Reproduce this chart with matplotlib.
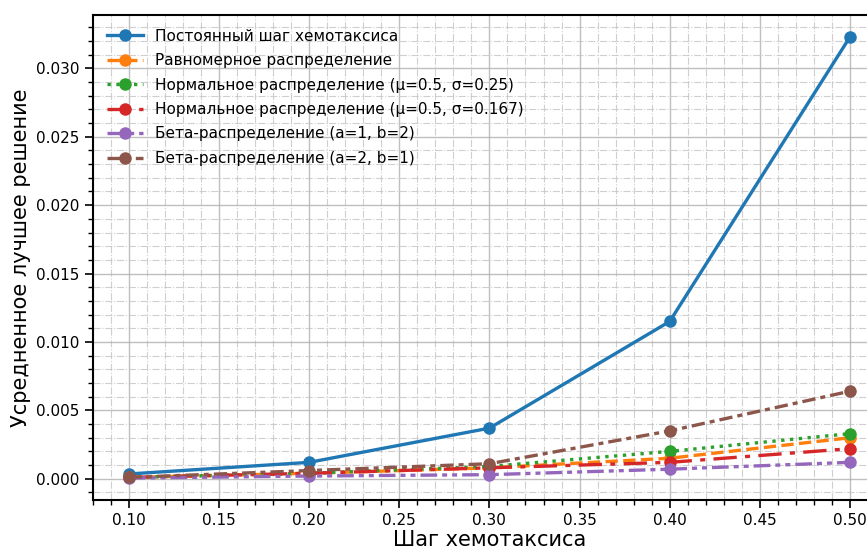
import numpy as np
import matplotlib
matplotlib.use("Agg")
import matplotlib.pyplot as plt
from matplotlib.ticker import MultipleLocator

steps = [0.1, 0.2, 0.3, 0.4, 0.5]
const_step = [0.00035, 0.0012, 0.0037, 0.0115, 0.0323]
uniform = [0.0001, 0.0004, 0.0008, 0.0015, 0.0030]
normal_025 = [0.0001, 0.0004, 0.0009, 0.0020, 0.0033]
normal_0167 = [0.0001, 0.0004, 0.0008, 0.0012, 0.0022]
beta_12 = [0.00005, 0.0002, 0.0003, 0.0007, 0.0012]
beta_21 = [0.0001, 0.0006, 0.0011, 0.0035, 0.0064]

series = [
    (const_step, "Постоянный шаг хемотаксиса", "#1f77b4", "-"),
    (uniform, "Равномерное распределение", "#ff7f0e", "--"),
    (normal_025, "Нормальное распределение (μ=0.5, σ=0.25)", "#2ca02c", ":"),
    (normal_0167, "Нормальное распределение (μ=0.5, σ=0.167)", "#d62728", (0, (7, 2.5, 1.5, 2.5))),
    (beta_12, "Бета-распределение (a=1, b=2)", "#9467bd", (0, (5, 1.5, 1.5, 1.5, 1.5, 1.5))),
    (beta_21, "Бета-распределение (a=2, b=1)", "#8c564b", (0, (4, 1.5, 1.5, 1.5))),
]

fig = plt.figure(figsize=(8.67, 5.49), dpi=100)
ax = fig.add_axes([0.107, 0.089, 0.915, 0.884])

for ys, label, color, ls in series:
    ax.plot(steps, ys, color=color, ls=ls, marker="o", markersize=8,
            linewidth=2.4, label=label)

ax.xaxis.set_major_locator(MultipleLocator(0.05))
ax.xaxis.set_minor_locator(MultipleLocator(0.01))
ax.yaxis.set_major_locator(MultipleLocator(0.005))
ax.yaxis.set_minor_locator(MultipleLocator(0.001))
ax.xaxis.set_major_formatter(matplotlib.ticker.FormatStrFormatter("%.2f"))
ax.yaxis.set_major_formatter(matplotlib.ticker.FormatStrFormatter("%.3f"))

ax.grid(which="major", color="#b0b0b0", linewidth=1.0, alpha=0.8)
ax.grid(which="minor", color="#c4c4c4", linestyle="-.", linewidth=0.8, alpha=0.8)
ax.tick_params(which="major", length=6, width=1.2, labelsize=11)
ax.tick_params(which="minor", length=3.5, width=1.0)
for sp in ax.spines.values():
    sp.set_linewidth(1.5)

ax.set_xlabel("Шаг хемотаксиса", fontsize=15, labelpad=1)
ax.set_ylabel("Усредненное лучшее решение", fontsize=15)
ax.legend(loc="upper left", fontsize=11, frameon=False,
          handlelength=2.4, labelspacing=0.62)

fig.savefig("out.png", dpi=100)
